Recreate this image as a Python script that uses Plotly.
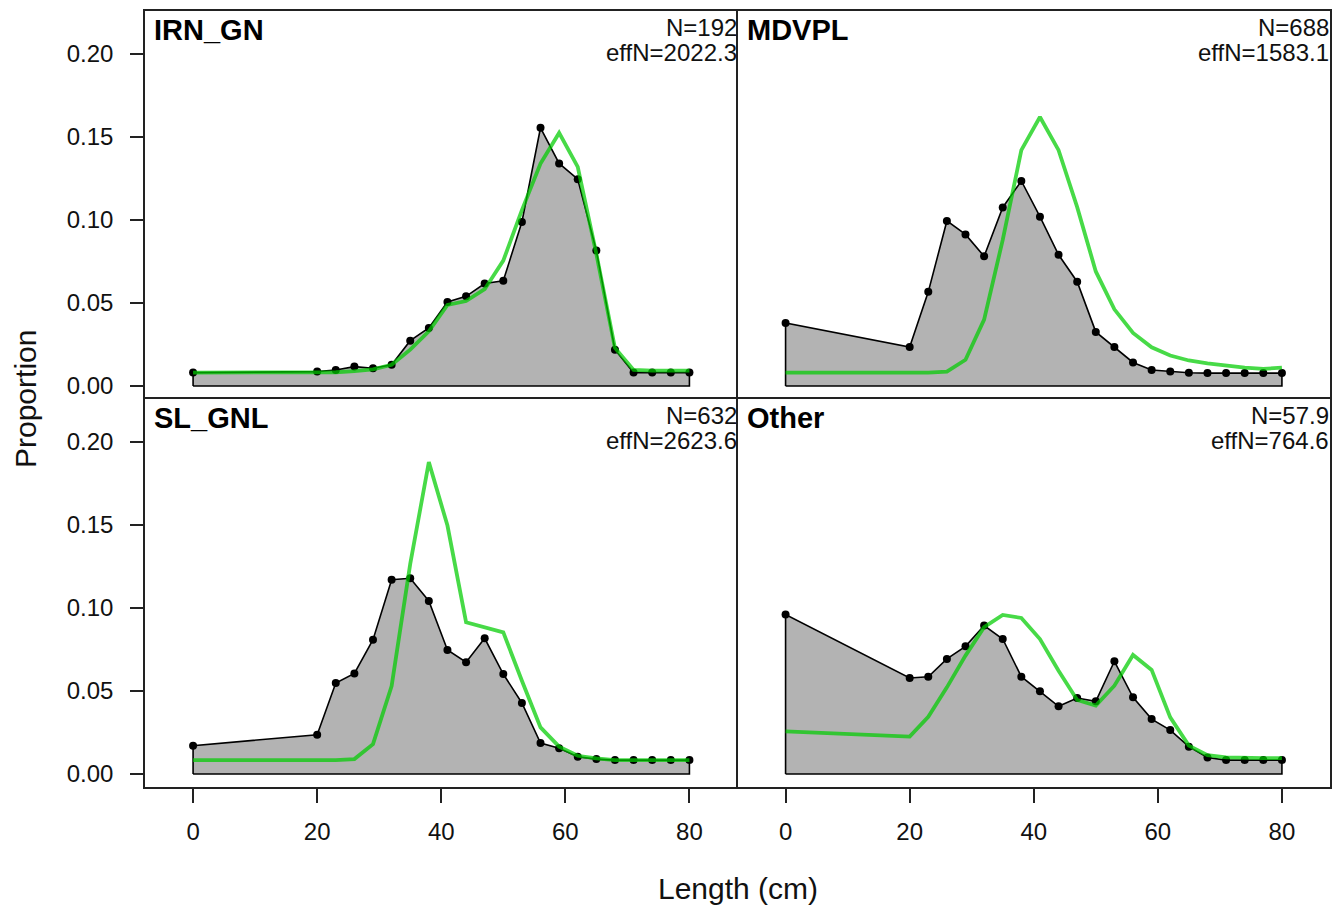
import plotly.graph_objects as go
from plotly.subplots import make_subplots

# ---------------- data ----------------
lengths = [0, 20, 23, 26, 29, 32, 35, 38, 41, 44, 47, 50, 53, 56, 59, 62, 65, 68, 71, 74, 77, 80]

fleets = ["IRN_GN", "MDVPL", "SL_GNL", "Other"]
n_labels = ["N=192", "N=688", "N=632", "N=57.9"]
effn_labels = ["effN=2022.3", "effN=1583.1", "effN=2623.6", "effN=764.6"]

obs_irn_gn = [0.0081, 0.0087, 0.0097, 0.0117, 0.0107, 0.0128, 0.0273, 0.0350, 0.0506, 0.0540, 0.0617,
              0.0634, 0.0988, 0.1555, 0.1340, 0.1245, 0.0816, 0.0219, 0.0081, 0.0081, 0.0081, 0.0081]
exp_irn_gn = [0.0081, 0.0081, 0.0083, 0.0090, 0.0100, 0.0128, 0.0219, 0.0330, 0.0488, 0.0512, 0.0583,
              0.0755, 0.1059, 0.1340, 0.1524, 0.1320, 0.0796, 0.0229, 0.0097, 0.0093, 0.0093, 0.0093]

obs_mdvpl = [0.0380, 0.0235, 0.0567, 0.0994, 0.0913, 0.0781, 0.1075, 0.1235, 0.1020, 0.0790, 0.0628,
             0.0326, 0.0235, 0.0142, 0.0097, 0.0087, 0.0080, 0.0078, 0.0078, 0.0078, 0.0078, 0.0078]
exp_mdvpl = [0.0081, 0.0081, 0.0081, 0.0087, 0.0158, 0.0400, 0.0880, 0.1420, 0.1620, 0.1420, 0.1077,
             0.0690, 0.0462, 0.0320, 0.0233, 0.0184, 0.0154, 0.0136, 0.0121, 0.0111, 0.0103, 0.0111]

obs_sl_gnl = [0.0171, 0.0237, 0.0548, 0.0606, 0.0809, 0.1170, 0.1179, 0.1042, 0.0747, 0.0673, 0.0817,
              0.0602, 0.0428, 0.0187, 0.0155, 0.0104, 0.0090, 0.0084, 0.0084, 0.0084, 0.0084, 0.0084]
exp_sl_gnl = [0.0084, 0.0084, 0.0084, 0.0090, 0.0180, 0.0530, 0.1265, 0.1878, 0.1496, 0.0914, 0.0884,
              0.0853, 0.0562, 0.0281, 0.0165, 0.0110, 0.0094, 0.0084, 0.0084, 0.0084, 0.0084, 0.0084]

obs_other = [0.0960, 0.0578, 0.0586, 0.0693, 0.0769, 0.0894, 0.0813, 0.0586, 0.0498, 0.0408, 0.0458,
             0.0438, 0.0679, 0.0462, 0.0331, 0.0265, 0.0165, 0.0100, 0.0084, 0.0084, 0.0084, 0.0084]
exp_other = [0.0257, 0.0225, 0.0345, 0.0522, 0.0713, 0.0884, 0.0958, 0.0940, 0.0813, 0.0622, 0.0446,
             0.0412, 0.0532, 0.0717, 0.0627, 0.0341, 0.0171, 0.0114, 0.0100, 0.0096, 0.0096, 0.0096]

observed = [obs_irn_gn, obs_mdvpl, obs_sl_gnl, obs_other]
expected = [exp_irn_gn, exp_mdvpl, exp_sl_gnl, exp_other]

y_tickvals = [0.0, 0.05, 0.10, 0.15, 0.20]
y_ticktext = ["0.00", "0.05", "0.10", "0.15", "0.20"]
x_tickvals = [0, 20, 40, 60, 80]

# ---------------- figure ----------------
FONT = "Liberation Sans, Arial, sans-serif"
fig = make_subplots(rows=2, cols=2, horizontal_spacing=0, vertical_spacing=0)

positions = [(1, 1), (1, 2), (2, 1), (2, 2)]
for i, (r, c) in enumerate(positions):
    obs = observed[i]
    exp = expected[i]
    fig.add_hline(y=0, row=r, col=c, line=dict(color="#c0c0c0", width=1.5), layer="below")
    px = [lengths[0]] + lengths + [lengths[-1], lengths[0]]
    py = [0] + obs + [0, 0]
    fig.add_trace(go.Scatter(x=px, y=py, mode="lines", fill="toself", fillcolor="#b3b3b3",
                             line=dict(color="black", width=1.6), hoverinfo="skip",
                             showlegend=False), row=r, col=c)
    fig.add_trace(go.Scatter(x=lengths, y=obs, mode="markers",
                             marker=dict(color="black", size=8), showlegend=False), row=r, col=c)
    fig.add_trace(go.Scatter(x=lengths, y=exp, mode="lines",
                             line=dict(color="rgba(0,204,0,0.72)", width=3.8), showlegend=False),
                  row=r, col=c)

    suffix = "" if i == 0 else str(i + 1)
    xref = f"x{suffix} domain"
    yref = f"y{suffix} domain"
    fig.add_annotation(text=f"<b>{fleets[i]}</b>", xref=xref, yref=yref, x=0, y=1,
                       xanchor="left", yanchor="middle", xshift=7, yshift=-19,
                       showarrow=False, font=dict(family=FONT, size=29, color="black"))
    fig.add_annotation(text=n_labels[i], xref=xref, yref=yref, x=1, y=1,
                       xanchor="right", yanchor="middle", xshift=1, yshift=-16,
                       showarrow=False, font=dict(family=FONT, size=24, color="#111"))
    fig.add_annotation(text=effn_labels[i], xref=xref, yref=yref, x=1, y=1,
                       xanchor="right", yanchor="middle", xshift=1, yshift=-41,
                       showarrow=False, font=dict(family=FONT, size=24, color="#111"))

LC = "#222"
LW = 1.7
for i, (r, c) in enumerate(positions):
    # x axes: top row draws only the top edge, bottom row draws bottom + shared middle edge
    if r == 1:
        fig.update_xaxes(range=[-7.75, 87.75], side="top", showline=True, mirror=False,
                         linecolor=LC, linewidth=LW, showgrid=False, zeroline=False,
                         showticklabels=False, ticks="", row=r, col=c)
    else:
        fig.update_xaxes(range=[-7.75, 87.75], showline=True, mirror=True,
                         linecolor=LC, linewidth=LW, showgrid=False, zeroline=False,
                         tickvals=x_tickvals, ticks="outside", ticklen=14, tickwidth=LW,
                         tickcolor=LC, tickfont=dict(family=FONT, size=24, color="#111"),
                         ticklabelstandoff=8, row=r, col=c)
    # y axes: left column draws left edge only, right column draws shared middle + right edge
    if c == 1:
        fig.update_yaxes(range=[-0.0078, 0.2258], showline=True, mirror=False,
                         linecolor=LC, linewidth=LW, showgrid=False, zeroline=False,
                         tickvals=y_tickvals, ticktext=y_ticktext, ticks="outside", ticklen=13,
                         tickwidth=LW, tickcolor=LC,
                         tickfont=dict(family=FONT, size=24, color="#111"),
                         ticklabelstandoff=12, row=r, col=c)
    else:
        fig.update_yaxes(range=[-0.0078, 0.2258], showline=True, mirror=True,
                         linecolor=LC, linewidth=LW, showgrid=False, zeroline=False,
                         showticklabels=False, ticks="", row=r, col=c)

fig.add_annotation(text="Proportion", xref="paper", yref="paper", x=0, y=0.5, xshift=-120,
                   textangle=-90, xanchor="center", yanchor="middle", showarrow=False,
                   font=dict(family=FONT, size=30, color="#111"))
fig.add_annotation(text="Length (cm)", xref="paper", yref="paper", x=0.5, y=0, yshift=-101,
                   xanchor="center", yanchor="middle", showarrow=False,
                   font=dict(family=FONT, size=30, color="#111"))

fig.update_layout(width=1344, height=909, margin=dict(l=145, r=14, t=11, b=122),
                  plot_bgcolor="white", paper_bgcolor="white", showlegend=False,
                  font=dict(family=FONT))

fig.write_html("out.html")
